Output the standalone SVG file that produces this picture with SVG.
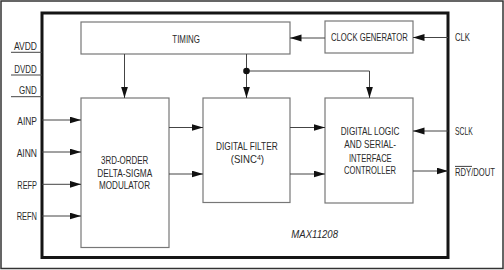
<svg xmlns="http://www.w3.org/2000/svg" width="504" height="270" viewBox="0 0 504 270">
<style>
  text { font-family: "Liberation Sans", Arial, sans-serif; font-size: 11px; fill: #2a2a2a; }
  .it { font-style: italic; }
  .box { fill: #fff; stroke: #777; stroke-width: 1.2; }
  .wire { fill: none; stroke: #444; stroke-width: 1; }
  .arr { marker-end: url(#ah); }
</style>
<defs>
  <marker id="ah" markerUnits="userSpaceOnUse" markerWidth="12" markerHeight="8" refX="11.5" refY="3.5" orient="auto">
    <path d="M0,0 L11.5,3.5 L0,7 Z" fill="#111"/>
  </marker>
</defs>
<rect x="0" y="0" width="504" height="270" fill="#fff"/>
<rect id="frame" x="1" y="1" width="502" height="267.5" fill="none" stroke="#333" stroke-width="1.5"/>
<g id="chip">
  <rect x="42" y="13" width="406" height="244.5" fill="none" stroke="#151515" stroke-width="3"/>
  <text class="it" x="291.3" y="237.7" textLength="46.7" lengthAdjust="spacingAndGlyphs">MAX11208</text>
</g>
<g id="timing">
  <rect class="box" x="81" y="22" width="209" height="32"/>
  <text x="172.3" y="42.7" textLength="27.7" lengthAdjust="spacingAndGlyphs">TIMING</text>
</g>
<g id="clockgen">
  <rect class="box" x="325" y="21" width="88" height="32"/>
  <text x="331" y="40.5" textLength="76.7" lengthAdjust="spacingAndGlyphs">CLOCK GENERATOR</text>
</g>
<g id="modulator">
  <rect class="box" x="81" y="98" width="88" height="149.5"/>
  <text x="101" y="164.3" textLength="47.3" lengthAdjust="spacingAndGlyphs">3RD-ORDER</text>
  <text x="97.3" y="176.7" textLength="55" lengthAdjust="spacingAndGlyphs">DELTA-SIGMA</text>
  <text x="99" y="189.3" textLength="51" lengthAdjust="spacingAndGlyphs">MODULATOR</text>
</g>
<g id="filter">
  <rect class="box" x="203" y="98" width="87" height="104.5"/>
  <text x="216" y="150" textLength="61.7" lengthAdjust="spacingAndGlyphs">DIGITAL FILTER</text>
  <text x="230.7" y="162.7" textLength="33.3" lengthAdjust="spacingAndGlyphs">(SINC<tspan dy="-3.2" style="font-size:8px">4</tspan><tspan dy="3.2">)</tspan></text>
</g>
<g id="logic">
  <rect class="box" x="325" y="98" width="88" height="105"/>
  <text x="340.7" y="135" textLength="58.7" lengthAdjust="spacingAndGlyphs">DIGITAL LOGIC</text>
  <text x="344.3" y="148.3" textLength="51.7" lengthAdjust="spacingAndGlyphs">AND SERIAL-</text>
  <text x="349" y="161.7" textLength="42.7" lengthAdjust="spacingAndGlyphs">INTERFACE</text>
  <text x="344" y="174.3" textLength="52" lengthAdjust="spacingAndGlyphs">CONTROLLER</text>
</g>
<g id="pins">
  <text x="14" y="50" textLength="23" lengthAdjust="spacingAndGlyphs">AVDD</text>
  <text x="14.3" y="72.7" textLength="22.4" lengthAdjust="spacingAndGlyphs">DVDD</text>
  <text x="19" y="94.3" textLength="17.7" lengthAdjust="spacingAndGlyphs">GND</text>
  <text x="17.3" y="124.8" textLength="19.7" lengthAdjust="spacingAndGlyphs">AINP</text>
  <text x="16.7" y="156.6" textLength="20.3" lengthAdjust="spacingAndGlyphs">AINN</text>
  <text x="17.3" y="188.5" textLength="19.7" lengthAdjust="spacingAndGlyphs">REFP</text>
  <text x="16.7" y="220.2" textLength="20.3" lengthAdjust="spacingAndGlyphs">REFN</text>
  <text x="455" y="40.5" textLength="15" lengthAdjust="spacingAndGlyphs">CLK</text>
  <text x="455" y="135" textLength="17.7" lengthAdjust="spacingAndGlyphs">SCLK</text>
  <text x="455" y="176" textLength="40" lengthAdjust="spacingAndGlyphs">RDY/DOUT</text>
  <line x1="455" y1="166.4" x2="472" y2="166.4" stroke="#2a2a2a" stroke-width="0.9"/>
</g>
<g id="connectors">
  <line class="wire" x1="11" y1="52.3" x2="42" y2="52.3"/>
  <line class="wire" x1="11" y1="75" x2="42" y2="75"/>
  <line class="wire" x1="11" y1="96.7" x2="42" y2="96.7"/>
  <line class="wire arr" x1="42" y1="120" x2="81" y2="120"/>
  <line class="wire arr" x1="42" y1="152" x2="81" y2="152"/>
  <line class="wire arr" x1="42" y1="184.3" x2="81" y2="184.3"/>
  <line class="wire arr" x1="42" y1="216" x2="81" y2="216"/>
  <line class="wire arr" x1="169" y1="127.5" x2="203" y2="127.5"/>
  <line class="wire arr" x1="169" y1="174" x2="203" y2="174"/>
  <line class="wire arr" x1="290" y1="127.5" x2="325" y2="127.5"/>
  <line class="wire arr" x1="290" y1="174" x2="325" y2="174"/>
  <line class="wire arr" x1="413" y1="171" x2="448" y2="171"/>
  <line class="wire arr" x1="448" y1="131" x2="413" y2="131"/>
  <line class="wire arr" x1="448" y1="37.5" x2="413" y2="37.5"/>
  <line class="wire arr" x1="325" y1="38" x2="290" y2="38"/>
  <line class="wire arr" x1="124.5" y1="54" x2="124.5" y2="98"/>
  <line class="wire arr" x1="246.5" y1="54" x2="246.5" y2="98"/>
  <path class="wire arr" d="M246.5,71 H369.5 V98"/>
  <circle cx="246.5" cy="71" r="3.3" fill="#111"/>
</g>
</svg>
